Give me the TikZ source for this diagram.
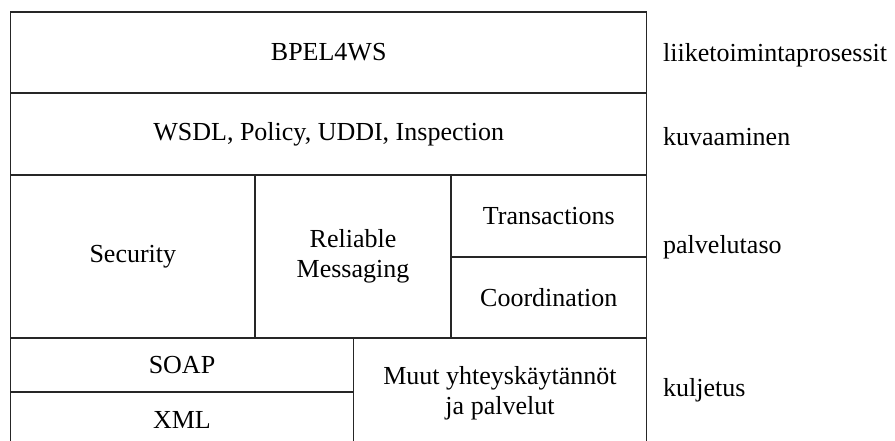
\documentclass[tikz,border=0pt]{standalone}
\usepackage{fontspec}
\setmainfont{Liberation Serif}
\begin{document}
\begin{tikzpicture}[x=1pt,y=-1pt,
  cell/.style={draw=black!85, line width=1.3pt, rectangle, inner sep=0pt,
    align=center, font=\fontsize{26}{30}\selectfont},
  layer/.style={anchor=west, inner sep=0pt, font=\fontsize{26}{30}\selectfont}]
\useasboundingbox (0,0) rectangle (895,441);
% top two full-width layers
\node[cell, minimum width=636pt, minimum height=81pt] (bpel) at (328.7,52.5) {BPEL4WS};
\node[cell, minimum width=636pt, minimum height=82pt] (wsdl) at (328.7,134) {WSDL, Policy, UDDI, Inspection};
% service layer
\node[cell, minimum width=244.3pt, minimum height=163pt] (sec) at (132.85,256.5) {Security};
\node[cell, minimum width=196pt, minimum height=163pt] (rel) at (353,256.5) {Reliable\\Messaging};
\node[cell, minimum width=195.7pt, minimum height=82pt] (tra) at (548.85,216) {Transactions};
\node[cell, minimum width=195.7pt, minimum height=81pt] (coo) at (548.85,297.5) {Coordination};
% transport layer
\node[cell, minimum width=342.6pt, minimum height=54pt] (soap) at (182,365) {SOAP};
\node[cell, minimum width=342.6pt, minimum height=56pt] (xml) at (182,420) {XML};
\node[cell, minimum width=293.4pt, minimum height=110pt] (muut) at (500,393) {Muut yhteyskäytännöt\\ja palvelut};
% layer names
\node[layer] (l1) at (663,55) {liiketoimintaprosessit};
\node[layer] (l2) at (663,137) {kuvaaminen};
\node[layer] (l3) at (663,247) {palvelutaso};
\node[layer] (l4) at (663,390) {kuljetus};
\end{tikzpicture}
\end{document}
